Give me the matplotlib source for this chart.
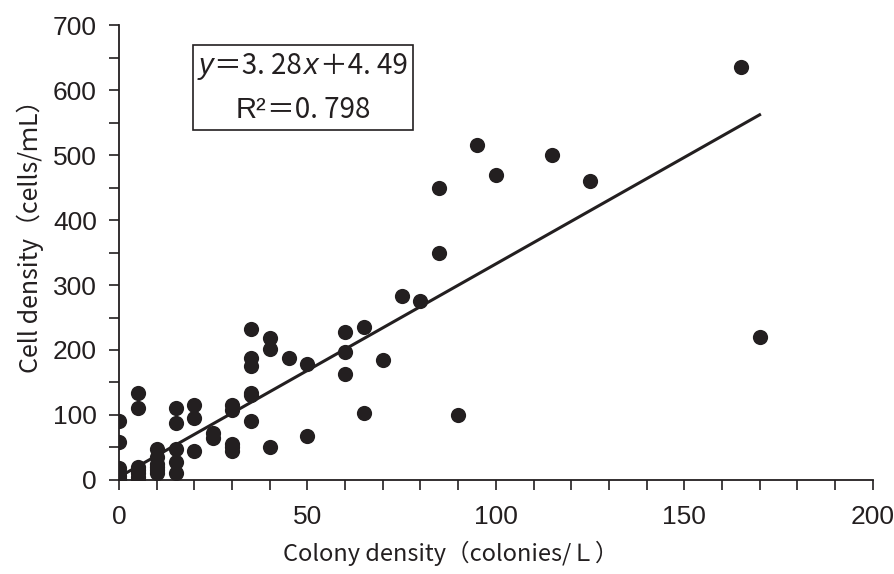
import matplotlib
matplotlib.use("Agg")
import matplotlib.pyplot as plt
from matplotlib.offsetbox import TextArea, HPacker, VPacker, AnchoredOffsetbox

# colony density (colonies/L) vs cell density (cells/mL)
colony = [0, 0, 0, 0, 0, 0, 0,
          5, 5, 5, 5, 5, 5, 5,
          10, 10, 10, 10, 10, 10,
          15, 15, 15, 15, 15,
          20, 20, 20,
          25, 25,
          30, 30, 30, 30, 30,
          35, 35, 35, 35, 35, 35,
          40, 40, 40,
          45,
          50, 50,
          60, 60, 60,
          65, 65,
          70, 75, 80,
          85, 85,
          90, 95, 100, 115, 125, 165, 170]
cells = [90, 58, 18, 12, 6, 2, 0,
         133, 110, 20, 15, 10, 5, 0,
         48, 35, 25, 20, 15, 10,
         110, 87, 47, 28, 10,
         115, 95, 45,
         72, 65,
         115, 108, 55, 50, 45,
         232, 187, 175, 133, 130, 90,
         218, 202, 50,
         188,
         178, 67,
         227, 197, 163,
         235, 103,
         185, 283, 275,
         450, 350,
         100, 515, 470, 500, 460, 635, 220]

slope = 3.28
intercept = 4.49
fit_x = [0, 170]

ink = "#231f20"
tick_font = ["Liberation Sans", "DejaVu Sans"]
jp_font = ["Noto Sans CJK JP", "DejaVu Sans"]

fig = plt.figure(figsize=(8.95, 5.74), dpi=100)
ax = fig.add_axes([0.133, 0.164, 0.842, 0.792])

ax.scatter(colony, cells, s=120, color=ink, zorder=3, linewidths=0)
ax.plot(fit_x, [slope * v + intercept for v in fit_x], color=ink, lw=2.2, zorder=2)

ax.set_xlim(0, 200)
ax.set_ylim(0, 700)
ax.set_xticks(range(0, 201, 50))
ax.set_xticks(range(0, 201, 10), minor=True)
ax.set_yticks(range(0, 701, 100))
ax.set_yticks(range(0, 701, 50), minor=True)
ax.spines["top"].set_visible(False)
ax.spines["right"].set_visible(False)
for s in ("left", "bottom"):
    ax.spines[s].set_color(ink)
    ax.spines[s].set_linewidth(1.3)
ax.tick_params(which="both", direction="out", length=7, width=1.2, color=ink,
               labelsize=19, labelcolor=ink)
ax.tick_params(axis="x", which="major", pad=11)
ax.tick_params(axis="y", which="major", pad=9)
for lab in ax.get_xticklabels() + ax.get_yticklabels():
    lab.set_family(tick_font)

ax.set_xlabel("Colony density（colonies/Ｌ）", fontsize=17, family=jp_font,
              color=ink)
ax.set_ylabel("Cell density（cells/ｍL）", fontsize=18, family=jp_font,
              color=ink)
ax.xaxis.set_label_coords(0.44, -0.135)
ax.yaxis.set_label_coords(-0.1, 0.55)

# regression equation box
tp = dict(fontsize=21, color=ink, family=tick_font)
jp = dict(fontsize=20, color=ink, family=jp_font)
line1 = HPacker(children=[
    TextArea("y", textprops=dict(tp, style="italic")),
    TextArea("＝3. 28", textprops=jp),
    TextArea("x", textprops=dict(tp, style="italic")),
    TextArea("＋4. 49", textprops=jp),
], align="baseline", pad=0, sep=1)
line2 = HPacker(children=[
    TextArea("R²", textprops=tp),
    TextArea("＝0. 798", textprops=jp),
], align="baseline", pad=0, sep=1)
box = VPacker(children=[line1, line2], align="center", pad=0, sep=10)
anch = AnchoredOffsetbox(loc="upper left", child=box, pad=0.4, borderpad=0,
                         frameon=True, bbox_to_anchor=(0.098, 0.956),
                         bbox_transform=ax.transAxes)
anch.patch.set_edgecolor(ink)
anch.patch.set_linewidth(1.2)
anch.patch.set_boxstyle("square", pad=0)
ax.add_artist(anch)

fig.savefig("out.png", dpi=100)
